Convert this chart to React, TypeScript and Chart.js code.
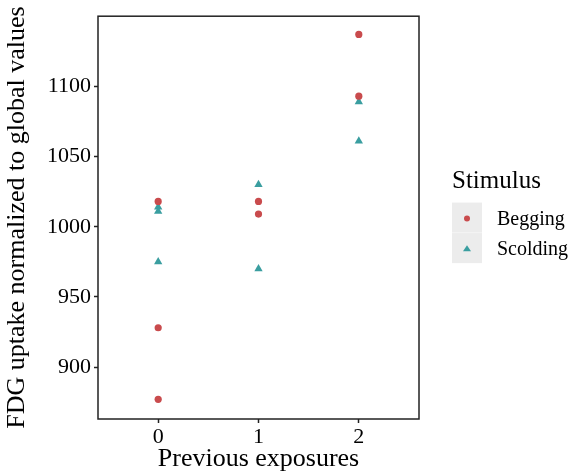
import React, { useEffect, useRef } from "react";
import { Chart, registerables } from "chart.js";
Chart.register(...registerables);

const xTickValues = [0, 1, 2];
const yTickValues = [900, 950, 1000, 1050, 1100];
const legendTitle = "Stimulus";
const seriesNames = ["Begging", "Scolding"];
const beggingX = [0, 0, 0, 1, 1, 2, 2];
const beggingY = [1018, 928, 877, 1018, 1009, 1137, 1093];
const scoldingX = [0, 0, 0, 1, 1, 2, 2];
const scoldingY = [1014, 1011, 975, 1030, 970, 1089, 1061];
const xTitle = "Previous exposures";
const yTitle = "FDG uptake normalized to global values";

const RED = "#c94b4d";
const TEAL = "#3a9ea0";
const FONT = "'Liberation Serif', 'Times New Roman', serif";

function drawMarker(ctx: CanvasRenderingContext2D, style: string, x: number, y: number, r: number, color: string) {
  ctx.fillStyle = color;
  ctx.beginPath();
  if (style === "circle") {
    ctx.arc(x, y, r, 0, Math.PI * 2);
  } else {
    const h = r * 1.5;
    ctx.moveTo(x, y - h * 0.66);
    ctx.lineTo(x + r, y + h * 0.34);
    ctx.lineTo(x - r, y + h * 0.34);
    ctx.closePath();
  }
  ctx.fill();
}

const panelPlugin = {
  id: "panelAndLegend",
  afterDraw(chart: any) {
    const { ctx, chartArea: a } = chart;
    ctx.save();
    ctx.strokeStyle = "#222";
    ctx.lineWidth = 1.5;
    ctx.strokeRect(a.left, a.top, a.right - a.left, a.bottom - a.top);

    const lx = a.right + 33;
    const cy = (a.top + a.bottom) / 2;
    ctx.fillStyle = "#000";
    ctx.font = `25px ${FONT}`;
    ctx.textBaseline = "middle";
    ctx.textAlign = "left";
    ctx.fillText(legendTitle, lx, cy - 36);
    chart.data.datasets.forEach((ds: any, i: number) => {
      const top = cy - 15 + i * 30.5;
      ctx.fillStyle = "#ececec";
      ctx.fillRect(lx, top, 30, 30);
      drawMarker(ctx, ds.pointStyle, lx + 15, top + 16, ds.pointStyle === "circle" ? 3 : 4, ds.backgroundColor);
      ctx.fillStyle = "#000";
      ctx.font = `20px ${FONT}`;
      ctx.fillText(ds.label, lx + 45, top + 17);
    });
    ctx.restore();
  },
};

export default function App() {
  const ref = useRef<HTMLCanvasElement>(null);
  useEffect(() => {
    if (!ref.current) return;
    const chart = new Chart(ref.current, {
      type: "scatter",
      data: {
        datasets: [
          {
            label: seriesNames[0],
            data: beggingX.map((x, i) => ({ x, y: beggingY[i] })),
            backgroundColor: RED,
            borderColor: RED,
            pointStyle: "circle",
            pointRadius: 3.6,
            borderWidth: 0,
          },
          {
            label: seriesNames[1],
            data: scoldingX.map((x, i) => ({ x, y: scoldingY[i] })),
            backgroundColor: TEAL,
            borderColor: TEAL,
            pointStyle: "triangle",
            pointRadius: 4.8,
            borderWidth: 0,
          },
        ],
      },
      options: {
        responsive: false,
        animation: false,
        layout: { padding: { top: 15, right: 160, bottom: 0, left: 0 } },
        plugins: { legend: { display: false }, tooltip: { enabled: false } },
        scales: {
          x: {
            type: "linear",
            min: -0.6,
            max: 2.6,
            afterBuildTicks: (s: any) => {
              s.ticks = xTickValues.map((v) => ({ value: v }));
            },
            afterFit: (s: any) => {
              s.height = 56;
            },
            grid: { display: true, drawOnChartArea: false, drawTicks: true, tickLength: 4, color: "#222", tickWidth: 1.5 },
            border: { display: false },
            ticks: { color: "#000", font: { family: FONT, size: 22 }, padding: 1, maxRotation: 0, callback: (v: any) => String(v) },
            title: { display: true, text: xTitle, color: "#000", font: { family: FONT, size: 26 }, padding: 0 },
          },
          y: {
            type: "linear",
            min: 863,
            max: 1150,
            afterBuildTicks: (s: any) => {
              s.ticks = yTickValues.map((v) => ({ value: v }));
            },
            afterFit: (s: any) => {
              s.width = 98;
            },
            grid: { display: true, drawOnChartArea: false, drawTicks: true, tickLength: 4, color: "#222", tickWidth: 1.5 },
            border: { display: false },
            ticks: { color: "#000", font: { family: FONT, size: 22 }, padding: 3, callback: (v: any) => String(v) },
            title: { display: true, text: yTitle, color: "#000", font: { family: FONT, size: 26 }, padding: { top: 2, bottom: 0 } },
          },
        },
      },
      plugins: [panelPlugin],
    });
    return () => chart.destroy();
  }, []);
  return (
    <div style={{ position: "fixed", left: 0, top: 0, width: 579, height: 475, background: "#fff" }}>
      <canvas ref={ref} width={579} height={475} style={{ display: "block" }} />
    </div>
  );
}
